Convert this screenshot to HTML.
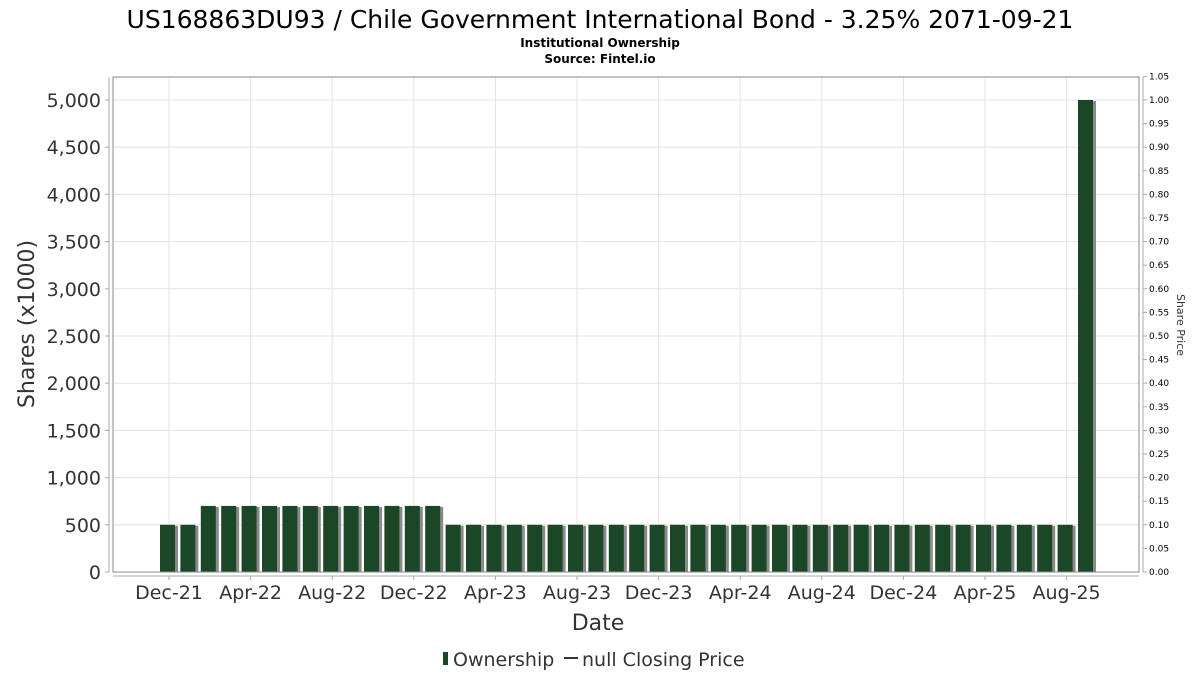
<!DOCTYPE html>
<html><head><meta charset="utf-8"><style>
body{margin:0;background:#fff}
svg{display:block;font-family:"DejaVu Sans","Liberation Sans",sans-serif}
</style></head><body>
<svg id="chart" width="1200" height="675">
<text x="600" y="28" text-anchor="middle" font-size="25" fill="#000">US168863DU93 / Chile Government International Bond - 3.25% 2071-09-21</text>
<text x="600" y="47" text-anchor="middle" font-size="12" font-weight="bold">Institutional Ownership</text>
<text x="600" y="63" text-anchor="middle" font-size="12" font-weight="bold">Source: Fintel.io</text>
<g id="grid"></g>
<g id="bars"></g>
<rect x="113" y="77" width="1026" height="495" fill="none" stroke="#888"/>
<line x1="109" y1="77" x2="109" y2="572" stroke="#aaa"/>
<line x1="1143" y1="77" x2="1143" y2="572" stroke="#aaa"/>
<line x1="113" y1="576" x2="1139" y2="576" stroke="#aaa"/>
<g id="axes"></g>
<text x="598" y="630" text-anchor="middle" font-size="22" fill="#333">Date</text>
<text transform="translate(34,324) rotate(-90)" text-anchor="middle" font-size="22" fill="#333">Shares (x1000)</text>
<text transform="translate(1177,325) rotate(90)" text-anchor="middle" font-size="11" fill="#333">Share Price</text>
<g>
<rect x="443" y="652" width="5" height="13" fill="#1b4727"/>
<text x="453" y="666" font-size="19" fill="#333">Ownership</text>
<line x1="564" y1="658" x2="578" y2="658" stroke="#333" stroke-width="2"/>
<text x="582" y="666" font-size="19" fill="#333">null Closing Price</text>
</g>
</svg>
<script>
const values=[500,500,700,700,700,700,700,700,700,700,700,700,700,700,500,500,500,500,500,500,500,500,500,500,500,500,500,500,500,500,500,500,500,500,500,500,500,500,500,500,500,500,500,500,500,5000];
const yTicks=[0,500,1000,1500,2000,2500,3000,3500,4000,4500,5000];
const rTicks=[0,0.05,0.1,0.15,0.2,0.25,0.3,0.35,0.4,0.45,0.5,0.55,0.6,0.65,0.7,0.75,0.8,0.85,0.9,0.95,1.0,1.05];
const xLabels=["Dec-21","Apr-22","Aug-22","Dec-22","Apr-23","Aug-23","Dec-23","Apr-24","Aug-24","Dec-24","Apr-25","Aug-25"];
const NS="http://www.w3.org/2000/svg";
const x0=168,step=20.4,yZero=572,yTop=100;
const xs=i=>x0+i*step;
const ys=v=>yZero-(v/5000)*(yZero-yTop);
const yr=v=>yZero-(v/1.0)*(yZero-yTop);
function mk(tag,attrs,parent){const e=document.createElementNS(NS,tag);for(const k in attrs)e.setAttribute(k,attrs[k]);parent.appendChild(e);return e;}
const grid=document.getElementById('grid'),bars=document.getElementById('bars'),axes=document.getElementById('axes');
yTicks.forEach(v=>{
  const y=ys(v);
  const g=mk('line',{x1:113,x2:1139,y1:y,y2:y,stroke:'#e3e3e3'},grid);
  
  
  mk('line',{x1:105,x2:109,y1:y,y2:y,stroke:'#aaa'},axes);
  const t=mk('text',{x:101,y:y+7,'text-anchor':'end','font-size':19,fill:'#333'},axes);
  t.textContent=v.toLocaleString('en-US');
  
  
});
rTicks.forEach(v=>{
  const y=yr(v);
  mk('line',{x1:1143,x2:1147,y1:y,y2:y,stroke:'#aaa'},axes);
  const t=mk('text',{x:1149,y:y+3,'font-size':9,fill:'#000'},axes);
  t.textContent=v.toFixed(2);
  
  
});
xLabels.forEach((l,i)=>{
  const x=xs(i*4)+1;
  const g=mk('line',{x1:x,x2:x,y1:77,y2:572,stroke:'#e3e3e3'},grid);
  
  
  mk('line',{x1:x,x2:x,y1:576,y2:580,stroke:'#aaa'},axes);
  const t=mk('text',{x:x,y:599,'text-anchor':'middle','font-size':19,fill:'#333'},axes);
  t.textContent=l;
  
  
});
values.forEach((v,i)=>{
  const x=xs(i)-8,y=ys(v),h=yZero-y;
  const s=mk('rect',{x:x+3,y:y+1,width:15,height:h-1,fill:'#8a8a8a'},bars);
  
  
  const b=mk('rect',{x:x,y:y,width:15,height:h,fill:'#1b4727'},bars);
  
  
});
</script>
</body></html>
